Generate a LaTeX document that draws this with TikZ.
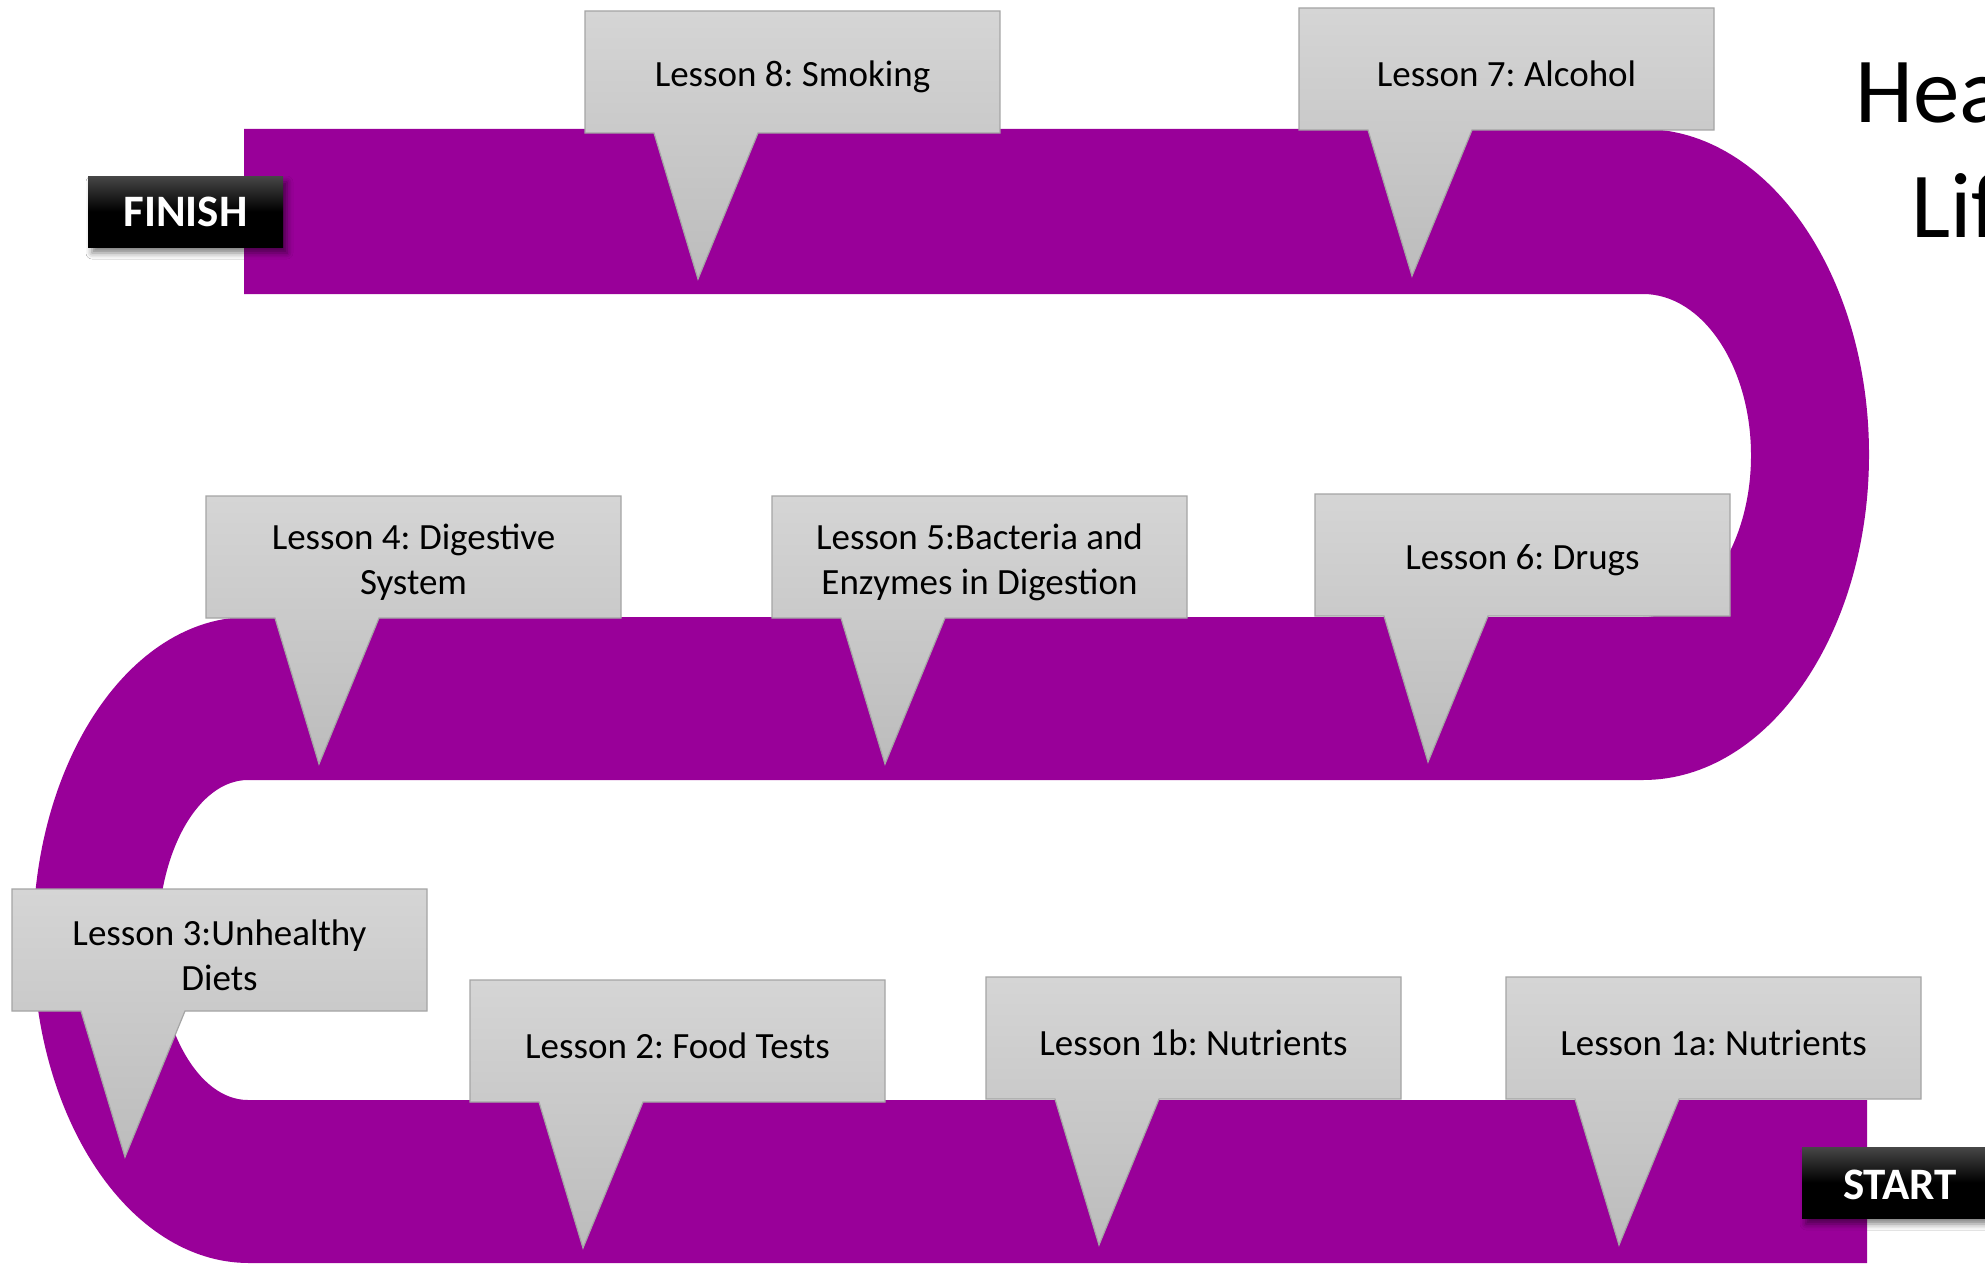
\documentclass[tikz,border=0pt]{standalone}
\usepackage{fontspec}
\setmainfont{Carlito}
\frenchspacing
\usetikzlibrary{shadows.blur}
\definecolor{road}{RGB}{153,0,153}
\definecolor{calltop}{RGB}{213,213,213}
\definecolor{callbot}{RGB}{188,188,188}
\definecolor{calledge}{RGB}{165,165,165}
\tikzset{
 callshape/.style={top color=calltop,bottom color=callbot,draw=calledge,line width=0.6pt},
 calltext/.style={align=center,font=\fontsize{18.5}{22.5}\selectfont\frenchspacing,inner sep=0pt,text=black},
 flagbox/.style={top color=black!72,bottom color=black,middle color=black,
   blur shadow={shadow xshift=2pt,shadow yshift=-3pt,shadow blur radius=3pt,shadow opacity=50}},
 flagtext/.style={text=white,font=\fontsize{22.5}{27}\selectfont\bfseries,inner sep=0pt},
 titletext/.style={anchor=base west,inner sep=0pt,font=\fontsize{46.5}{56}\selectfont,text=black},
}
\newcommand\lessoncall[4]{%
 \path[callshape] (#2,#3) -- ++(415,0) -- ++(0,122) -- ++(-242,0) -- ++(-60,146) -- ++(-44,-146) -- ++(-69,0) -- cycle;
 \node[calltext] (#1) at (#2+207.5,#3+66) {#4};
}
\begin{document}
\begin{tikzpicture}[x=0.5pt,y=-0.5pt]
\useasboundingbox (0,0) rectangle (1985,1263);
\fill[white] (0,0) rectangle (1985,1263);
% the road
\fill[road] (244,129) -- (1643,129)
  arc[start angle=90,end angle=-90,x radius=113pt,y radius=162.75pt]
  -- (248,780)
  arc[start angle=90,end angle=270,x radius=45pt,y radius=80pt]
  -- (1867,1100) -- (1867,1263) -- (249,1263)
  arc[start angle=270,end angle=90,x radius=108pt,y radius=161.5pt]
  -- (1643,617)
  arc[start angle=-90,end angle=90,x radius=54pt,y radius=80.75pt]
  -- (244,294) -- cycle;
% title
\node[titletext] (t1) at (1855,122) {Hea};
\node[titletext] (t2) at (1911,237) {Lif};
% callouts
\lessoncall{l8}{585}{11}{Lesson 8: Smoking}
\lessoncall{l7}{1299}{8}{Lesson 7: Alcohol}
\lessoncall{l4}{206}{496}{Lesson 4: Digestive\\System}
\lessoncall{l5}{772}{496}{Lesson 5:Bacteria and\\Enzymes in Digestion}
\lessoncall{l6}{1315}{494}{Lesson 6: Drugs}
\lessoncall{l3}{12}{889}{Lesson 3:Unhealthy\\Diets}
\lessoncall{l2}{470}{980}{Lesson 2: Food Tests}
\lessoncall{l1b}{986}{977}{Lesson 1b: Nutrients}
\lessoncall{l1a}{1506}{977}{Lesson 1a: Nutrients}
% finish / start
\path[flagbox] (88,176) rectangle (283,247);
\node[flagtext] (finish) at (185.5,211.5) {FINISH};
\path[flagbox] (1802,1147) rectangle (2000,1218);
\node[flagtext] (start) at (1900,1184.5) {START};
\end{tikzpicture}
\end{document}
